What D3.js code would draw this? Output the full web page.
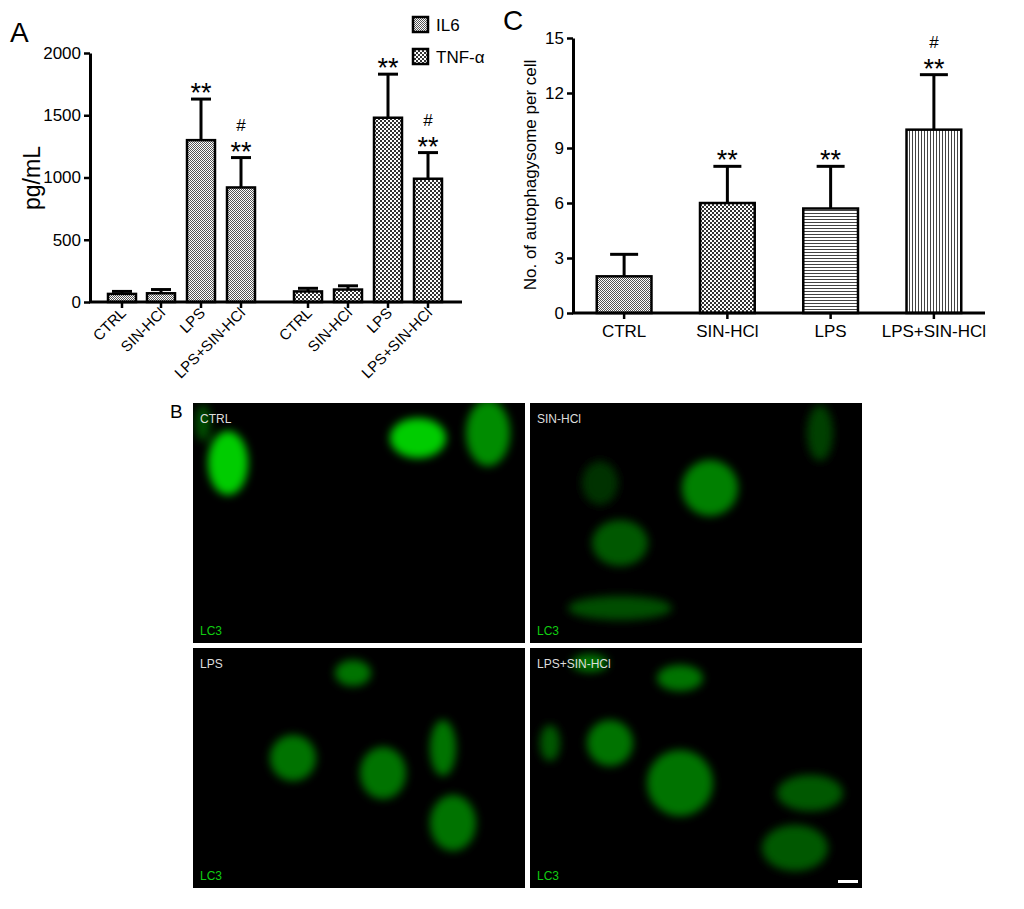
<!DOCTYPE html><html><head><meta charset="utf-8"><script src="https://cdn.jsdelivr.net/npm/d3@7"></script>
<style>body{margin:0;background:#fff}text{font-family:Arial,"Liberation Sans",sans-serif}</style></head><body>
<svg id="s" width="1024" height="909"></svg>
<script>
const groupsA=["IL6","TNF-α"];
const catsA=["CTRL","SIN-HCl","LPS","LPS+SIN-HCl"];
const il6=[65,70,1300,920], il6Err=[85,100,1630,1160], il6Sig=["","","**","#**"];
const tnf=[85,100,1480,990], tnfErr=[110,130,1830,1200], tnfSig=["","","**","#**"];
const ticksA=[0,500,1000,1500,2000];
const catsC=["CTRL","SIN-HCl","LPS","LPS+SIN-HCl"];
const valC=[2,6,5.7,10], errC=[3.2,8,8,13], sigC=["","**","**","#**"];
const ticksC=[0,3,6,9,12,15];
const panelsB=["CTRL","SIN-HCl","LPS","LPS+SIN-HCl"];
// cells: [panel, cx, cy, rx, ry, intensity]
const cellsB=[[0,35,60,20,32,0.8],[0,225,35,28,20,0.8],[0,295,30,22,33,0.55],[0,10,20,8,18,0.3],
[1,180,85,28,28,0.5],[1,90,140,28,23,0.35],[1,90,205,52,12,0.3],[1,290,30,13,28,0.25],[1,70,80,18,22,0.2],
[2,160,25,18,13,0.45],[2,100,110,23,23,0.45],[2,190,125,23,26,0.45],[2,250,100,13,28,0.45],[2,260,175,23,28,0.45],
[3,80,95,23,23,0.45],[3,150,135,33,33,0.45],[3,150,30,23,13,0.45],[3,60,15,18,9,0.45],[3,20,95,10,18,0.35],[3,280,145,33,18,0.35],[3,265,200,33,23,0.35]];
const svg=d3.select("#s");
const defs=svg.append("defs");
function pat(id,size,draw){const p=defs.append("pattern").attr("id",id).attr("patternUnits","userSpaceOnUse").attr("width",size).attr("height",size);p.append("rect").attr("width",size).attr("height",size).attr("fill","#fff");draw(p);}
pat("fine",2,p=>{p.append("rect").attr("width",1).attr("height",1).attr("fill","#555");p.append("rect").attr("x",1).attr("y",1).attr("width",1).attr("height",1).attr("fill","#555")});
pat("coarse",4,p=>{p.append("rect").attr("width",2).attr("height",2).attr("fill","#333");p.append("rect").attr("x",2).attr("y",2).attr("width",2).attr("height",2).attr("fill","#333")});
pat("hlines",3,p=>{p.append("rect").attr("width",3).attr("height",1).attr("fill","#444")});
pat("vlines",3,p=>{p.append("rect").attr("width",1).attr("height",3).attr("fill","#444")});
const blur=defs.append("filter").attr("id","bl").attr("x","-50%").attr("y","-50%").attr("width","200%").attr("height","200%");blur.append("feGaussianBlur").attr("stdDeviation",4);
function sig(g,x,yTop,s){
 if(s.includes("**")) g.append("text").attr("x",x).attr("y",yTop+3).attr("text-anchor","middle").attr("font-size",27).text("**");
 if(s.includes("#")) g.append("text").attr("x",x).attr("y",yTop-27).attr("text-anchor","middle").attr("font-size",17).text("#");}
// Panel A
const yA=d3.scaleLinear().domain([0,2000]).range([302,53]);
const gA=svg.append("g");
const allV=il6.concat(tnf), allE=il6Err.concat(tnfErr), allS=il6Sig.concat(tnfSig);
const xPos=[122,161,201,241,308,348,388,428];
allV.forEach((v,i)=>{const cx=xPos[i],w=28;
 gA.append("line").attr("x1",cx).attr("x2",cx).attr("y1",yA(v)).attr("y2",yA(allE[i])).attr("stroke","#000").attr("stroke-width",3);
 gA.append("line").attr("x1",cx-10).attr("x2",cx+10).attr("y1",yA(allE[i])).attr("y2",yA(allE[i])).attr("stroke","#000").attr("stroke-width",3);
 gA.append("rect").attr("x",cx-w/2).attr("y",yA(v)).attr("width",w).attr("height",yA(0)-yA(v)).attr("fill",i<4?"url(#fine)":"url(#coarse)").attr("stroke","#000").attr("stroke-width",2.5);
 sig(gA,cx,yA(allE[i]),allS[i]);
 gA.append("text").attr("transform",`translate(${cx+5},${314}) rotate(-45)`).attr("text-anchor","end").attr("font-size",15).text(catsA[i%4]);
});
gA.append("g").attr("transform","translate(90,0)").call(d3.axisLeft(yA).tickValues(ticksA).tickFormat(d3.format("d")).tickSize(6).tickSizeOuter(0)).call(a=>{a.select(".domain").attr("stroke-width",3);a.selectAll("line").attr("stroke-width",2.5);a.selectAll("text").attr("font-size",17).attr("fill","#000")});
gA.append("line").attr("x1",89).attr("x2",462).attr("y1",302).attr("y2",302).attr("stroke","#000").attr("stroke-width",3);
xPos.forEach(x=>gA.append("line").attr("x1",x).attr("x2",x).attr("y1",302).attr("y2",308).attr("stroke","#000").attr("stroke-width",2.5));
gA.append("text").attr("transform","translate(40,178) rotate(-90)").attr("text-anchor","middle").attr("font-size",23).text("pg/mL");
gA.append("text").attr("x",10).attr("y",42).attr("font-size",28).text("A");
groupsA.forEach((g,i)=>{gA.append("rect").attr("x",413).attr("y",17+i*32).attr("width",15).attr("height",15).attr("fill",i?"url(#coarse)":"url(#fine)").attr("stroke","#000").attr("stroke-width",2.5);
 gA.append("text").attr("x",436).attr("y",31+i*32).attr("font-size",17).text(g);});
// Panel C
const yC=d3.scaleLinear().domain([0,15]).range([313,38]);
const xC=d3.scaleBand().domain(catsC).range([573,985]).paddingInner(0.47).paddingOuter(0.23);
const gC=svg.append("g");
const fillsC=["url(#fine)","url(#coarse)","url(#hlines)","url(#vlines)"];
catsC.forEach((c,i)=>{const x=xC(c),w=xC.bandwidth(),cx=x+w/2;
 gC.append("line").attr("x1",cx).attr("x2",cx).attr("y1",yC(valC[i])).attr("y2",yC(errC[i])).attr("stroke","#000").attr("stroke-width",3);
 gC.append("line").attr("x1",cx-14).attr("x2",cx+14).attr("y1",yC(errC[i])).attr("y2",yC(errC[i])).attr("stroke","#000").attr("stroke-width",3);
 gC.append("rect").attr("x",x).attr("y",yC(valC[i])).attr("width",w).attr("height",yC(0)-yC(valC[i])).attr("fill",fillsC[i]).attr("stroke","#000").attr("stroke-width",2.5);
 sig(gC,cx,yC(errC[i]),sigC[i]);
});
gC.append("g").attr("transform","translate(573,0)").call(d3.axisLeft(yC).tickValues(ticksC).tickSize(6).tickSizeOuter(0)).call(a=>{a.select(".domain").attr("stroke-width",3);a.selectAll("line").attr("stroke-width",2.5);a.selectAll("text").attr("font-size",17).attr("fill","#000")});
gC.append("g").attr("transform","translate(0,313)").call(d3.axisBottom(xC).tickSize(6).tickSizeOuter(0)).call(a=>{a.select(".domain").attr("stroke-width",3).attr("d","M572,0H985");a.selectAll("line").attr("stroke-width",2.5);a.selectAll("text").attr("font-size",17).attr("fill","#000").attr("dy","0.9em")});
gC.append("text").attr("transform","translate(536,175) rotate(-90)").attr("text-anchor","middle").attr("font-size",17).text("No. of autophagysome per cell");
gC.append("text").attr("x",503).attr("y",30).attr("font-size",28).text("C");
// Panel B
svg.append("text").attr("x",170).attr("y",418).attr("font-size",19).text("B");
const pos=[[193,403],[530,403],[193,648],[530,648]];
panelsB.forEach((p,i)=>{const g=svg.append("g").attr("transform",`translate(${pos[i][0]},${pos[i][1]})`);
 g.append("rect").attr("width",332).attr("height",240).attr("fill","#000");
 const inner=g.append("svg").attr("width",332).attr("height",240);
 const cg=inner.append("g").attr("filter","url(#bl)");
 cellsB.filter(c=>c[0]===i).forEach(c=>cg.append("ellipse").attr("cx",c[1]).attr("cy",c[2]).attr("rx",c[3]).attr("ry",c[4]).attr("fill",d3.rgb(0,255*c[5],0)));
 g.append("text").attr("x",7).attr("y",20).attr("fill","#ddd").attr("font-size",12).text(p);
 g.append("text").attr("x",7).attr("y",232).attr("fill","#1c1").attr("font-size",12).text("LC3");
});
svg.append("rect").attr("x",838).attr("y",880).attr("width",20).attr("height",3).attr("fill","#fff");
</script></body></html>
